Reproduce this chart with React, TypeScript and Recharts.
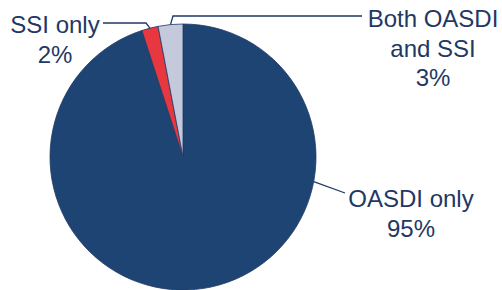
import React from 'react';
import { PieChart, Pie, Cell } from 'recharts';

const categories = ['OASDI only', 'SSI only', 'Both OASDI\nand SSI'];
const shares = [95, 2, 3];
const labels = ['95%', '2%', '3%'];

const COLORS = ['#1E4474', '#E8373F', '#C4CADC'];
const TEXT = '#1F3864';

const data = categories.map((name, i) => ({ name, value: shares[i], label: labels[i] }));

// where each callout sits: optional anchor angle on the rim, elbow points, text block
const CALLOUTS = [
  { angle: -10.7, path: [[345, 193]], x: 411, y: 207 },
  { angle: null, path: [[146, 23], [103, 23]], x: 55, y: 33 },
  { angle: null, path: [[173, 16], [362, 16]], x: 433, y: 27 },
];

const RADIAN = Math.PI / 180;

const renderLabel = (props: any) => {
  const { cx, cy, midAngle, outerRadius, index } = props;
  const c = CALLOUTS[index];
  const a = (c.angle ?? midAngle) * RADIAN;
  const sx = cx + outerRadius * Math.cos(a);
  const sy = cy - outerRadius * Math.sin(a);
  const pts = [[sx, sy], ...c.path].map((p) => p.join(',')).join(' ');
  const lines = [...data[index].name.split('\n'), data[index].label];
  return (
    <g>
      <polyline points={pts} fill="none" stroke={TEXT} strokeWidth={1.3} />
      {lines.map((t, i) => (
        <text
          key={i}
          x={c.x}
          y={c.y + i * 29.5}
          textAnchor="middle"
          fill={TEXT}
          fontSize={24}
          fontFamily="'Liberation Sans', Arial, sans-serif"
        >
          {t}
        </text>
      ))}
    </g>
  );
};

export default function App() {
  return (
    <div style={{ position: 'absolute', left: 0, top: 0, width: 502, height: 290, background: '#fff' }}>
      <PieChart width={502} height={290} margin={{ top: 0, right: 0, bottom: 0, left: 0 }}>
        <Pie
          data={data}
          dataKey="value"
          cx={183}
          cy={157}
          outerRadius={133}
          startAngle={90}
          endAngle={-270}
          stroke="#1F3A66"
          strokeWidth={0.8}
          labelLine={false}
          label={renderLabel}
          isAnimationActive={false}
        >
          {data.map((entry, index) => (
            <Cell key={`cell-${index}`} fill={COLORS[index]} />
          ))}
        </Pie>
      </PieChart>
    </div>
  );
}
